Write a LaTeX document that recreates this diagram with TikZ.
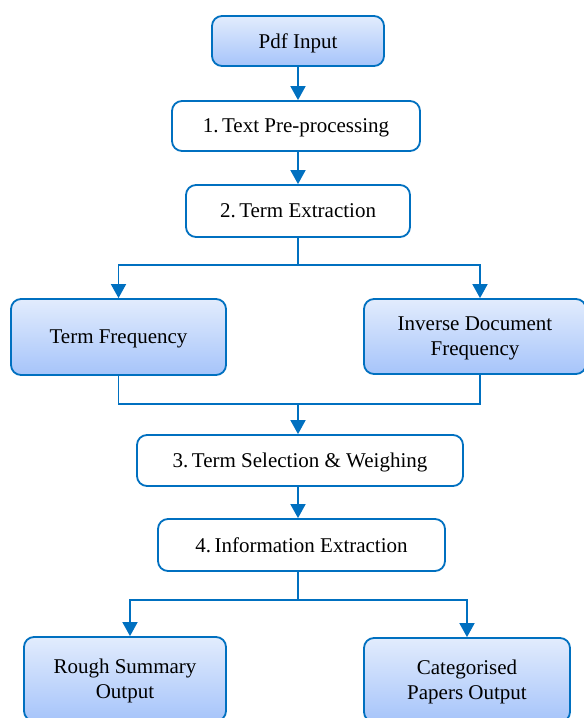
\documentclass[tikz,border=0pt]{standalone}
\usepackage{fontspec}
\setmainfont{Liberation Serif}
\usetikzlibrary{arrows.meta}
\definecolor{edgeblue}{RGB}{0,112,192}
\definecolor{filltop}{RGB}{226,236,253}
\definecolor{fillbot}{RGB}{166,196,250}
\tikzset{
  base/.style={draw=edgeblue, line width=1.8pt, rounded corners=10pt, inner sep=0pt,
    align=center, text depth=0pt, font=\fontsize{21}{25}\selectfont},
  shaded/.style={base, top color=filltop, bottom color=fillbot},
  plain/.style={base, fill=white},
  link/.style={edgeblue, line width=1.8pt},
  arr/.style={link, -{Triangle[width=15pt,length=14pt]}}
}
\begin{document}
\begin{tikzpicture}[x=1pt,y=-1pt]
\useasboundingbox (0,0) rectangle (584,718);
\clip (0,0) rectangle (584,718);
\fill[white] (0,0) rectangle (584,718);

% process steps
\node[shaded, minimum width=172pt, minimum height=50pt] (pdf) at (298,41) {Pdf Input};
\node[plain, minimum width=248pt, minimum height=50pt] (s1) at (296,126) {1.\,Text Pre-processing};
\node[plain, minimum width=224pt, minimum height=52pt] (s2) at (298,211) {2.\,Term Extraction};
\node[shaded, minimum width=215pt, minimum height=76pt] (tf) at (118.5,337) {Term Frequency};
\node[shaded, minimum width=222pt, minimum height=75pt] (idf) at (475,336.5) {Inverse Document\\Frequency};
\node[plain, minimum width=326pt, minimum height=51pt] (s3) at (300,460.5) {3.\,Term Selection \& Weighing};
\node[plain, minimum width=287pt, minimum height=52pt] (s4) at (301.5,545) {4.\,Information Extraction};
\node[shaded, minimum width=202pt, minimum height=84pt] (rs) at (125,679) {Rough Summary\\Output};
\node[shaded, minimum width=206pt, minimum height=84pt] (cp) at (467,680) {Categorised\\Papers Output};

% junction points
\coordinate (j1) at (298,265);
\coordinate (m) at (298,404);
\coordinate (j2) at (298,600);

% connectors
\draw[arr] (pdf.south) -- (pdf.south |- s1.north);
\draw[arr] (pdf.south |- s1.south) -- (pdf.south |- s2.north);
\draw[link] (s2.south) -- (j1);
\draw[arr] (j1) -| (tf.north);
\draw[arr] (j1) -| ([xshift=5pt]idf.north);
\draw[link] (tf.south) |- (m);
\draw[link] ([xshift=5pt]idf.south) |- (m);
\draw[arr] (m) -- (m |- s3.north);
\draw[arr] (m |- s3.south) -- (m |- s4.north);
\draw[link] (j2 |- s4.south) -- (j2);
\draw[arr] (j2) -| ([xshift=5pt]rs.north);
\draw[arr] (j2) -| (cp.north);
\end{tikzpicture}
\end{document}
